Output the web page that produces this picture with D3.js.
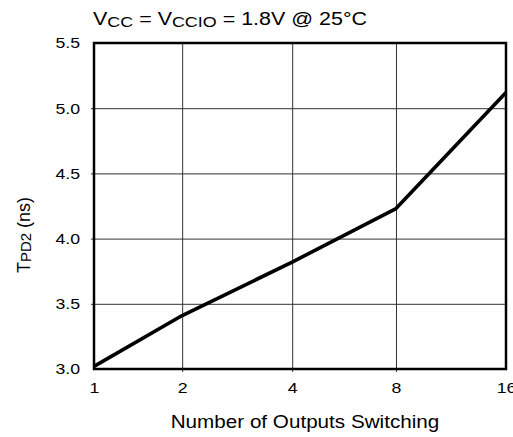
<!DOCTYPE html>
<html>
<head>
<meta charset="utf-8">
<script src="https://cdn.jsdelivr.net/npm/d3@7"></script>
<style>
  body { margin: 0; background: #fff; }
  svg text { font-family: "Liberation Sans", Arial, Helvetica, sans-serif; fill: #000; }
</style>
</head>
<body>
<div id="chart"></div>
<script>
// data
const outputs = [1, 2, 4, 8, 16];
const tpd2 = [3.02, 3.41, 3.82, 4.23, 5.12];
const yTicks = [3.0, 3.5, 4.0, 4.5, 5.0, 5.5];
const xTickLabels = ["1", "2", "4", "8", "16"];

const W = 513, H = 437;
const margin = { top: 43, right: 7, bottom: 68, left: 94 };
const width = W - margin.left - margin.right;
const height = H - margin.top - margin.bottom;

// the source chart spaces the columns unevenly, so map each value to its own slot
const xSlots = [0, 0.214, 0.481, 0.733, 1];

// the original picture looks stretched sideways a bit
const STRETCH = 1.18;
function stretch(sel, k) {
    sel.each(function() {
        const w = this.getComputedTextLength();
        d3.select(this).attr("textLength", w * k).attr("lengthAdjust", "spacingAndGlyphs");
    });
}

const svg = d3.select("#chart").append("svg")
    .attr("width", W)
    .attr("height", H);

const g = svg.append("g")
    .attr("transform", `translate(${margin.left},${margin.top})`);

const x = d3.scaleLinear()
    .domain(outputs)
    .range(xSlots.map(f => f * width));

const y = d3.scaleLinear()
    .domain([3.0, 5.5])
    .range([height, 0]);

// --- grid ---
const xGrid = g.append("g")
    .attr("transform", `translate(0,${height})`)
    .call(d3.axisBottom(x).tickValues(outputs.slice(1, -1)).tickSize(-height - 0).tickSizeOuter(0).tickFormat(""));
xGrid.select(".domain").remove();
xGrid.selectAll("line").attr("stroke", "#333").attr("stroke-width", 1).attr("y1", 3);

const yGrid = g.append("g")
    .call(d3.axisLeft(y).tickValues(yTicks.slice(1, -1)).tickSize(-width).tickSizeOuter(0).tickFormat(""));
yGrid.select(".domain").remove();
yGrid.selectAll("line").attr("stroke", "#333").attr("stroke-width", 1).attr("x1", -3);

// --- frame ---
g.append("rect")
    .attr("x", 0)
    .attr("y", 0)
    .attr("width", width)
    .attr("height", height)
    .attr("fill", "none")
    .attr("stroke", "#000")
    .attr("stroke-width", 2.5);

// --- axes labels ---
const yAxis = g.append("g")
    .call(d3.axisLeft(y).tickValues(yTicks).tickFormat(d3.format(".1f")).tickSize(0).tickPadding(14));
yAxis.select(".domain").remove();
yAxis.selectAll("text").attr("font-size", "15px").attr("font-family", null);
stretch(yAxis.selectAll("text"), STRETCH);

const xAxis = g.append("g")
    .attr("transform", `translate(0,${height})`)
    .call(d3.axisBottom(x).tickValues(outputs).tickFormat((d, i) => xTickLabels[i]).tickSize(0).tickPadding(13));
xAxis.select(".domain").remove();
xAxis.selectAll("text").attr("font-size", "15px").attr("font-family", null);
stretch(xAxis.selectAll("text"), STRETCH);

// --- the curve ---
const line = d3.line()
    .x((d, i) => x(outputs[i]))
    .y(d => y(d));

g.append("path")
    .datum(tpd2)
    .attr("fill", "none")
    .attr("stroke", "#000")
    .attr("stroke-width", 3.6)
    .attr("stroke-linejoin", "round")
    .attr("d", line);

// --- title ---
const title = svg.append("text")
    .attr("x", 93)
    .attr("y", 25)
    .attr("font-size", "18px");
title.append("tspan").text("V");
title.append("tspan").attr("font-size", "15px").attr("dy", 2).text("CC");
title.append("tspan").attr("dy", -2).text(" = V");
title.append("tspan").attr("font-size", "15px").attr("dy", 2).text("CCIO");
title.append("tspan").attr("dy", -2).text(" = 1.8V  @ 25°C");
title.attr("textLength", 274).attr("lengthAdjust", "spacingAndGlyphs");

// --- axis titles ---
const xLabel = svg.append("text")
    .attr("x", 305)
    .attr("y", 428)
    .attr("text-anchor", "middle")
    .attr("font-size", "17.5px")
    .text("Number of Outputs Switching");
stretch(xLabel, STRETCH);

const yLabel = svg.append("text")
    .attr("transform", "translate(30,235) rotate(-90)")
    .attr("text-anchor", "middle")
    .attr("font-size", "18px");
yLabel.append("tspan").text("T");
yLabel.append("tspan").attr("font-size", "15px").attr("dy", 1).text("PD2");
yLabel.append("tspan").attr("dy", -1).text(" (ns)");
</script>
</body>
</html>
